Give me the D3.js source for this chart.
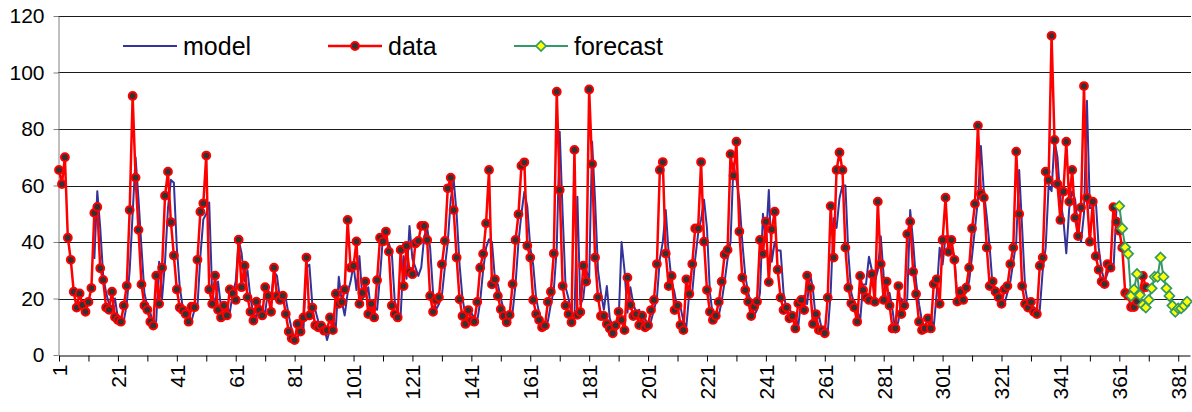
<!DOCTYPE html>
<html>
<head>
<meta charset="utf-8">
<script src="https://cdn.jsdelivr.net/npm/d3@7"></script>
<style>
  body { margin: 0; background: #fff; }
  svg { display: block; font-family: "Liberation Sans", Arial, sans-serif; }
</style>
</head>
<body>
<svg id="chart" width="1192" height="412"></svg>
<script>
// Observed series, one value per period starting at period 1
const dataValues = [
  65.5, 60.5, 70, 41.5, 33.7, 22.4, 16.8, 21.8, 17.7, 15.3,
  18.8, 23.7, 50.3, 52.4, 30.7, 26.6, 16.8, 16, 22.4, 13.4,
  12.4, 11.8, 17.5, 24.5, 51.3, 91.7, 62.8, 44.3, 25, 17.5,
  16, 11.8, 10.4, 28.1, 18.1, 30.9, 56.4, 64.9, 47, 35.2,
  23.2, 16.8, 15.9, 14.5, 11.8, 17.1, 16.9, 33.7, 50.7, 53.7,
  70.6, 23.2, 18.1, 28.1, 16, 13.3, 17.5, 14, 23.2, 21.8,
  19.5, 40.8, 24, 31.6, 20.4, 15.3, 12.2, 18.9, 15.9, 14,
  24, 20.9, 15.3, 30.9, 20.9, 19.5, 21, 14.5, 8.3, 5.9,
  5.3, 11, 8.3, 13.3, 34.5, 14, 16.8, 10.5, 9.8, 10.4,
  8.6, 8.8, 13.3, 8.8, 21.7, 18.1, 18.8, 23.2, 47.8, 30.9,
  31.5, 40.2, 18.1, 22, 26, 14.5, 18.1, 13.3, 26.5, 41.5,
  40.2, 43.7, 36.6, 17.5, 14.5, 13.3, 37.2, 24.4, 38.6, 29.5,
  28.6, 39.5, 40.4, 45.7, 45.7, 40.7, 20.9, 15.3, 19.5, 20.4,
  32.1, 40.4, 59, 62.8, 51.3, 34.5, 19.7, 13.8, 11, 15.9,
  12.2, 11.8, 18.8, 30.9, 35.8, 46.6, 65.5, 25, 26.8, 20.9,
  16.2, 13.8, 11.6, 14.2, 25.1, 40.7, 49.8, 67, 68.2, 38.7,
  34.5, 19.5, 14.5, 12.4, 9.8, 10.4, 18.8, 22.4, 35.9, 93.2,
  58.4, 24.4, 17.5, 14.5, 11.6, 72.6, 14.2, 15.2, 31.6, 26,
  94, 67.6, 34.5, 20.4, 13.8, 13.8, 11, 9.4, 7.7, 10.5,
  15.3, 12.4, 8.8, 27.4, 17.7, 13.8, 14.5, 10.6, 13.9, 9.8,
  10.5, 15.9, 19.5, 32.2, 65.5, 68.3, 35.9, 24.4, 28, 15.9,
  17.5, 10.6, 8.8, 26.8, 21.6, 32.2, 44.8, 44.8, 68.3, 40.1,
  23, 15.3, 12.4, 13.9, 18.8, 26, 35.6, 37.2, 71.1, 63.5,
  75.5, 43.7, 27.4, 23, 18.9, 13.8, 17.1, 18.9, 40.7, 35.8,
  47.2, 25.8, 44.5, 50.7, 30.2, 20.3, 15.9, 16.8, 13, 13.8,
  9.4, 18.3, 19.5, 15.9, 28.1, 23.8, 11, 14.5, 8.8, 8.8,
  7.7, 20.3, 52.7, 34.5, 65.5, 71.7, 65.5, 38, 23.8, 18.3,
  16.8, 11.8, 28, 23, 20.4, 19.5, 28.6, 18.8, 54.3, 32.2,
  19.5, 26, 17.5, 9.4, 9.4, 24.4, 14.5, 17.5, 42.8, 47.2,
  29.5, 21.6, 11.8, 8.8, 9.4, 13, 9.4, 25.1, 26.8, 18.1,
  40.7, 55.7, 36.5, 40.7, 33.7, 18.9, 22.4, 19.5, 23.8, 30.9,
  44.8, 53.5, 81.2, 57.1, 55.7, 38, 24.4, 26, 22.4, 20.4,
  18.1, 23.2, 24.4, 32.2, 38, 72, 49.9, 24.4, 18.1, 16.8,
  18.8, 15.3, 14.5, 31.6, 34.5, 64.9, 61.9, 113, 76.1, 60.5,
  47.8, 57.8, 75.5, 54.3, 65.5, 48.6, 42.1, 52.2, 95.2, 55.7,
  40.1, 54.3, 35, 30.2, 26, 25.1, 32.2, 30.9, 52.3, 47.2,
  44, 38, 22, 21, 17, 17, 19, 22, 28, 24
];

// Fitted model, first period with a value
const modelStart = 13;
const modelValues = [
  34, 58, 45, 28, 22, 18, 17, 20,
  13, 12, 12, 18, 30, 50, 70, 55, 38, 22,
  17, 15, 11, 12, 33, 20, 33, 52, 62, 61,
  38, 24, 17, 15, 14, 12, 16, 17, 35, 48,
  50, 54, 22, 18, 26, 17, 14, 17, 15, 22,
  26, 40.7, 36, 26, 30, 20, 15, 13, 18, 16,
  15, 23, 20, 29.5, 28, 20, 20, 20, 14, 9,
  6, 6, 10, 9, 31, 32, 18, 16, 12, 10,
  10, 5.3, 9, 12, 10, 27.7, 19, 14, 22, 26,
  32, 23, 35, 20, 21, 24, 15, 17, 16, 28,
  42, 40, 39.5, 36, 19, 15, 14, 35, 27, 45.7,
  34, 31, 28, 31, 42, 45, 38, 22, 16, 18,
  21, 31, 40, 55, 62, 50, 32, 20, 14, 12,
  15, 13, 12, 19, 30, 38, 41, 40, 27, 25,
  20, 16, 14, 12, 15, 25, 40, 50, 57.8, 52.5,
  38, 32, 20, 15, 12, 10, 12, 18, 23, 38,
  79, 50, 24, 20, 15, 13, 56, 18, 20, 30,
  27, 75.5, 55, 30, 22, 16, 24.4, 13, 10, 8,
  12, 40, 30, 15, 24, 18, 15, 16, 12, 13,
  10, 12, 16, 20, 34, 40, 51.3, 36, 26, 22,
  16, 17, 12, 10, 22, 22, 34, 43, 48, 55,
  45, 22, 14, 13, 14, 19, 26, 34, 40, 67.8,
  62, 55, 40, 28, 22, 18, 14, 16, 22, 50,
  40, 58.4, 33, 40, 37, 37, 22, 16, 17, 13,
  14, 10, 20, 21, 18, 29, 23, 12, 14, 9,
  10, 8, 22, 48.4, 45, 55.5, 60, 60, 36, 22,
  18, 16, 12, 25, 25, 34.8, 30, 26, 30, 42,
  28, 18, 22, 16, 8, 12, 20, 16, 20, 51.3,
  40, 26, 18, 12, 10, 10, 13, 10, 22, 38,
  32, 42, 42, 38, 35, 20, 24, 22, 22, 26,
  35, 45, 55, 74, 58, 49, 38, 24, 24, 22,
  20, 18, 22, 26, 33, 40, 65.5, 45, 24, 18,
  16, 17, 14, 16, 30, 38, 60, 58, 76, 70,
  55, 48, 36, 52, 58, 55, 45, 40, 50, 90,
  52, 52, 55, 38, 30, 26, 29, 32, 30, 51
];

// Forecast, first forecast period
const forecastStart = 361;
const forecastValues = [
  52.7, 44.8, 38.1, 35.8, 20.9, 23.2, 28.7, 21.2, 17.7, 16.8,
  19.5, 23.6, 27.7, 27.7, 34.5, 27.7, 23.6, 20.9, 17.5, 15.3,
  16.5, 16.5, 17.5, 18.9
];

const yTickValues = [0, 20, 40, 60, 80, 100, 120];
const xTickPeriods = d3.range(1, 386, 10);
const xLabelPeriods = d3.range(1, 382, 20);
const seriesNames = ["model", "data", "forecast"];
const seriesColors = { model: "#333399", data: "#ff0000", forecast: "#339966" };

const svg = d3.select("#chart");
const x = d3.scaleLinear().domain([1, 385]).range([59, 1190]);
const y = d3.scaleLinear().domain([0, 120]).range([355, 16]);

const toPoints = (vals, start) => vals.map((v, i) => ({ p: start + i, v }));
const dataPts = toPoints(dataValues, 1);
const modelPts = toPoints(modelValues, modelStart);
const forecastPts = toPoints(forecastValues, forecastStart);

// Horizontal gridlines
svg.append("g").selectAll("line")
  .data(yTickValues.filter(v => v > 0))
  .join("line")
  .attr("x1", 58).attr("x2", 1191)
  .attr("y1", d => Math.round(y(d)) + 0.5)
  .attr("y2", d => Math.round(y(d)) + 0.5)
  .attr("stroke", "#1a1a1a").attr("stroke-width", 1);

// Value axis
const yAxis = svg.append("g")
  .attr("transform", "translate(58.5,0)")
  .call(d3.axisLeft(y).tickValues(yTickValues).tickSize(5).tickPadding(9).tickSizeOuter(0));
yAxis.select(".domain").attr("stroke", "#808080");
yAxis.selectAll(".tick line").attr("stroke", "#808080");
yAxis.selectAll("text").attr("font-size", 21).attr("fill", "#000")
  .attr("font-family", "'Liberation Sans', Arial, sans-serif");

// Period axis
const xAxis = svg.append("g")
  .attr("transform", "translate(0,355.5)")
  .call(d3.axisBottom(x).tickValues(xTickPeriods).tickSize(6).tickSizeOuter(0)
    .tickFormat(d => xLabelPeriods.includes(d) ? String(d) : ""));
xAxis.select(".domain").attr("stroke", "#000");
xAxis.selectAll(".tick line").attr("stroke", "#000");
xAxis.selectAll("text")
  .attr("font-size", 21).attr("fill", "#000")
  .attr("font-family", "'Liberation Sans', Arial, sans-serif")
  .attr("transform", "rotate(-90)")
  .attr("text-anchor", "end")
  .attr("x", -9).attr("y", 0).attr("dy", "0.35em");

const line = d3.line().x(d => x(d.p)).y(d => y(d.v));

// model
svg.append("path").datum(modelPts)
  .attr("d", line).attr("fill", "none")
  .attr("stroke", seriesColors.model).attr("stroke-width", 2)
  .attr("stroke-linejoin", "round");

// data
svg.append("path").datum(dataPts)
  .attr("d", line).attr("fill", "none")
  .attr("stroke", seriesColors.data).attr("stroke-width", 2.5)
  .attr("stroke-linejoin", "round");
svg.append("g").selectAll("circle")
  .data(dataPts).join("circle")
  .attr("cx", d => x(d.p)).attr("cy", d => y(d.v)).attr("r", 3.9)
  .attr("fill", "#333").attr("stroke", seriesColors.data).attr("stroke-width", 2);

// forecast
const diamond = "M0,-5L5,0L0,5L-5,0Z";
svg.append("path").datum(forecastPts)
  .attr("d", line).attr("fill", "none")
  .attr("stroke", seriesColors.forecast).attr("stroke-width", 2);
svg.append("g").selectAll("path")
  .data(forecastPts).join("path")
  .attr("d", diamond)
  .attr("transform", d => `translate(${x(d.p)},${y(d.v)})`)
  .attr("fill", "#ffff00").attr("stroke", seriesColors.forecast).attr("stroke-width", 1.7);

// Legend
const legendX = { model: 123, data: 328, forecast: 514 };
const legend = svg.append("g");
seriesNames.forEach(name => {
  const g = legend.append("g").attr("transform", `translate(${legendX[name]},46)`);
  g.append("line").attr("x1", 0).attr("x2", 54).attr("y1", 0).attr("y2", 0)
    .attr("stroke", seriesColors[name]).attr("stroke-width", name === "data" ? 2.5 : 2.2);
  if (name === "data") {
    g.append("circle").attr("cx", 27).attr("cy", 0).attr("r", 3.9)
      .attr("fill", "#333").attr("stroke", seriesColors.data).attr("stroke-width", 2);
  } else if (name === "forecast") {
    g.append("path").attr("d", diamond).attr("transform", "translate(27,0)")
      .attr("fill", "#ffff00").attr("stroke", seriesColors.forecast).attr("stroke-width", 1.7);
  }
  g.append("text").attr("x", 60).attr("y", 0).attr("dy", "0.35em")
    .attr("font-size", 25).attr("fill", "#000").text(name);
});
</script>
</body>
</html>
